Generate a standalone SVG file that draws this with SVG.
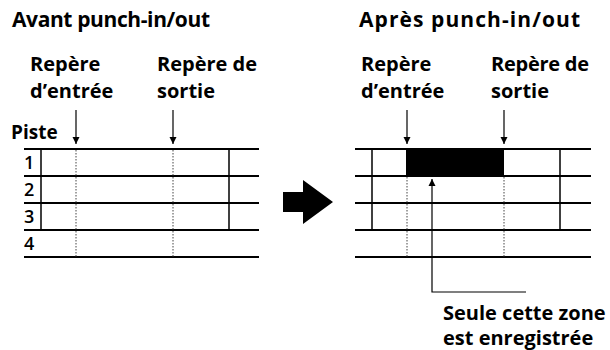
<svg xmlns="http://www.w3.org/2000/svg" width="610" height="350" viewBox="0 0 610 350">
<defs>
<style>
.t{font-family:"Open Sans","Liberation Sans",sans-serif;font-weight:700;fill:#000}
.h{font-size:21px}
.l{font-size:20px}
.p{font-size:19px}
.n{font-family:"Open Sans","Liberation Sans",sans-serif;font-weight:600;font-size:18px;fill:#000}
.hl{stroke:#000;stroke-width:2;fill:none}
.vl{stroke:#000;stroke-width:1.5;fill:none}
.dl{stroke:#444;stroke-width:1;stroke-dasharray:1.5 1.5;fill:none}
.ar{stroke:#000;stroke-width:1.2;fill:none}
</style>
<marker id="ah" viewBox="0 0 10 10" refX="10" refY="5" markerWidth="7" markerHeight="10" markerUnits="userSpaceOnUse" orient="auto">
<path d="M0,0 L10,5 L0,10 Z" fill="#000"/>
</marker>
</defs>
<rect width="610" height="350" fill="#fff"/>
<g id="before">
<text class="t h" x="12" y="27" textLength="198" lengthAdjust="spacing">Avant punch-in/out</text>
<text class="t l" x="30" y="71">Repère</text>
<text class="t l" x="30" y="98">d’entrée</text>
<text class="t l" x="157" y="71" textLength="100" lengthAdjust="spacing">Repère de</text>
<text class="t l" x="157" y="98">sortie</text>
<text class="t p" x="11" y="139">Piste</text>
<text class="n" x="24" y="169">1</text>
<text class="n" x="24" y="196">2</text>
<text class="n" x="24" y="223">3</text>
<text class="n" x="24" y="250">4</text>
<g id="grid-before">
<line class="hl" x1="24" y1="149" x2="259" y2="149"/>
<line class="hl" x1="24" y1="176" x2="259" y2="176"/>
<line class="hl" x1="24" y1="203" x2="259" y2="203"/>
<line class="hl" x1="24" y1="230" x2="259" y2="230"/>
<line class="hl" x1="24" y1="257" x2="259" y2="257"/>
<line class="vl" x1="41" y1="149" x2="41" y2="230"/>
<line class="vl" x1="229" y1="149" x2="229" y2="230"/>
<line class="dl" x1="76" y1="150" x2="76" y2="257"/>
<line class="dl" x1="173" y1="150" x2="173" y2="257"/>
</g>
</g>
<g id="transition">
<path d="M283,192 L303,192 L303,180 L333,202 L303,224 L303,212 L283,212 Z" fill="#000"/>
</g>
<g id="after">
<text class="t h" x="359" y="27" textLength="221" lengthAdjust="spacing">Après punch-in/out</text>
<text class="t l" x="361" y="71">Repère</text>
<text class="t l" x="361" y="98">d’entrée</text>
<text class="t l" x="491" y="71" textLength="98" lengthAdjust="spacing">Repère de</text>
<text class="t l" x="491" y="98">sortie</text>
<g id="grid-after">
<rect x="406" y="149" width="98" height="27" fill="#000"/>
<line class="hl" x1="355" y1="149" x2="591" y2="149"/>
<line class="hl" x1="355" y1="176" x2="591" y2="176"/>
<line class="hl" x1="355" y1="203" x2="591" y2="203"/>
<line class="hl" x1="355" y1="230" x2="591" y2="230"/>
<line class="hl" x1="355" y1="257" x2="591" y2="257"/>
<line class="vl" x1="372" y1="149" x2="372" y2="230"/>
<line class="vl" x1="560" y1="149" x2="560" y2="230"/>
<line class="dl" x1="407" y1="177" x2="407" y2="257"/>
<line class="dl" x1="504" y1="177" x2="504" y2="257"/>
</g>
<text class="t l" x="443" y="320">Seule cette zone</text>
<text class="t l" x="443" y="345">est enregistrée</text>
</g>
<g id="connectors">
<line class="ar" x1="76" y1="110" x2="76" y2="144" marker-end="url(#ah)"/>
<line class="ar" x1="173" y1="110" x2="173" y2="144" marker-end="url(#ah)"/>
<line class="ar" x1="407" y1="110" x2="407" y2="144" marker-end="url(#ah)"/>
<line class="ar" x1="504" y1="110" x2="504" y2="144" marker-end="url(#ah)"/>
<path class="ar" d="M526,292 L432,292 L432,179" marker-end="url(#ah)"/>
</g>
</svg>
